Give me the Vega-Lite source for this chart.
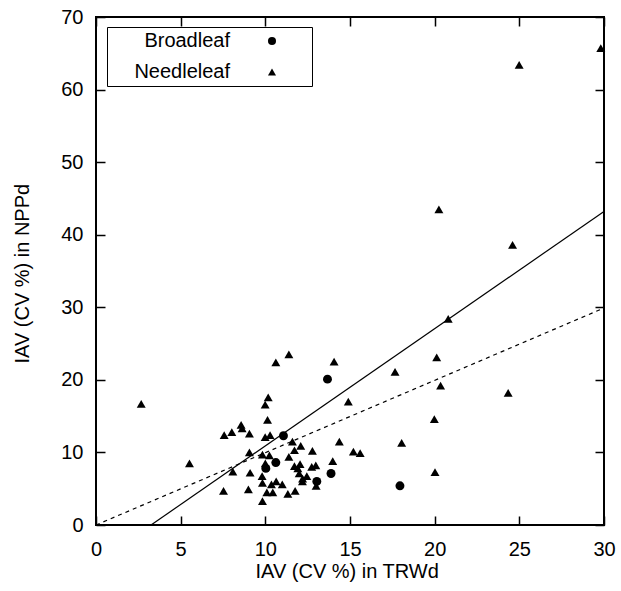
{
  "$schema": "https://vega.github.io/schema/vega-lite/v6.json",
  "width": 508,
  "height": 508,
  "autosize": {"type": "none"},
  "padding": {"left": 96, "top": 17, "right": 17, "bottom": 66},
  "background": "white",
  "config": {
    "font": "Liberation Sans",
    "view": {"stroke": "black", "strokeWidth": 2, "fill": "transparent"},
    "axis": {"domain": false, "ticks": false, "zindex": 1, "labelColor": "black", "titleColor": "black", "titleFontWeight": "normal", "labelFlush": false, "labelOverlap": false}
  },
  "datasets": {
    "points": [
      {"trw": 10.03, "npp": 7.8, "type": "Broadleaf"},
      {"trw": 10.62, "npp": 8.6, "type": "Broadleaf"},
      {"trw": 11.07, "npp": 12.3, "type": "Broadleaf"},
      {"trw": 13.04, "npp": 6.0, "type": "Broadleaf"},
      {"trw": 13.67, "npp": 20.1, "type": "Broadleaf"},
      {"trw": 13.88, "npp": 7.1, "type": "Broadleaf"},
      {"trw": 17.95, "npp": 5.4, "type": "Broadleaf"},
      {"trw": 2.67, "npp": 16.7, "type": "Needleleaf"},
      {"trw": 5.52, "npp": 8.5, "type": "Needleleaf"},
      {"trw": 7.53, "npp": 4.7, "type": "Needleleaf"},
      {"trw": 7.57, "npp": 12.4, "type": "Needleleaf"},
      {"trw": 8.02, "npp": 12.8, "type": "Needleleaf"},
      {"trw": 8.08, "npp": 7.35, "type": "Needleleaf"},
      {"trw": 8.57, "npp": 13.8, "type": "Needleleaf"},
      {"trw": 8.63, "npp": 13.3, "type": "Needleleaf"},
      {"trw": 9.06, "npp": 12.6, "type": "Needleleaf"},
      {"trw": 9.06, "npp": 10.0, "type": "Needleleaf"},
      {"trw": 9.1, "npp": 7.2, "type": "Needleleaf"},
      {"trw": 9.0, "npp": 4.9, "type": "Needleleaf"},
      {"trw": 9.83, "npp": 9.7, "type": "Needleleaf"},
      {"trw": 9.81, "npp": 6.75, "type": "Needleleaf"},
      {"trw": 9.83, "npp": 5.8, "type": "Needleleaf"},
      {"trw": 9.83, "npp": 3.3, "type": "Needleleaf"},
      {"trw": 9.99, "npp": 16.6, "type": "Needleleaf"},
      {"trw": 10.17, "npp": 17.6, "type": "Needleleaf"},
      {"trw": 10.13, "npp": 14.5, "type": "Needleleaf"},
      {"trw": 9.99, "npp": 12.1, "type": "Needleleaf"},
      {"trw": 10.28, "npp": 12.4, "type": "Needleleaf"},
      {"trw": 10.24, "npp": 9.6, "type": "Needleleaf"},
      {"trw": 10.0, "npp": 8.5, "type": "Needleleaf"},
      {"trw": 10.09, "npp": 4.5, "type": "Needleleaf"},
      {"trw": 10.44, "npp": 4.5, "type": "Needleleaf"},
      {"trw": 10.36, "npp": 5.6, "type": "Needleleaf"},
      {"trw": 10.64, "npp": 6.0, "type": "Needleleaf"},
      {"trw": 10.62, "npp": 22.4, "type": "Needleleaf"},
      {"trw": 11.39, "npp": 23.5, "type": "Needleleaf"},
      {"trw": 11.0, "npp": 5.6, "type": "Needleleaf"},
      {"trw": 11.33, "npp": 4.3, "type": "Needleleaf"},
      {"trw": 11.39, "npp": 9.4, "type": "Needleleaf"},
      {"trw": 11.6, "npp": 11.5, "type": "Needleleaf"},
      {"trw": 11.72, "npp": 10.3, "type": "Needleleaf"},
      {"trw": 11.72, "npp": 8.1, "type": "Needleleaf"},
      {"trw": 11.76, "npp": 4.7, "type": "Needleleaf"},
      {"trw": 11.92, "npp": 7.8, "type": "Needleleaf"},
      {"trw": 12.05, "npp": 8.4, "type": "Needleleaf"},
      {"trw": 12.0, "npp": 7.1, "type": "Needleleaf"},
      {"trw": 12.09, "npp": 10.9, "type": "Needleleaf"},
      {"trw": 12.19, "npp": 6.0, "type": "Needleleaf"},
      {"trw": 12.2, "npp": 6.4, "type": "Needleleaf"},
      {"trw": 12.45, "npp": 6.75, "type": "Needleleaf"},
      {"trw": 12.78, "npp": 10.2, "type": "Needleleaf"},
      {"trw": 12.74, "npp": 8.0, "type": "Needleleaf"},
      {"trw": 12.98, "npp": 8.2, "type": "Needleleaf"},
      {"trw": 13.0, "npp": 5.4, "type": "Needleleaf"},
      {"trw": 13.98, "npp": 8.8, "type": "Needleleaf"},
      {"trw": 14.06, "npp": 22.5, "type": "Needleleaf"},
      {"trw": 14.37, "npp": 11.5, "type": "Needleleaf"},
      {"trw": 14.9, "npp": 17.0, "type": "Needleleaf"},
      {"trw": 15.2, "npp": 10.1, "type": "Needleleaf"},
      {"trw": 15.6, "npp": 9.9, "type": "Needleleaf"},
      {"trw": 17.66, "npp": 21.1, "type": "Needleleaf"},
      {"trw": 18.05, "npp": 11.3, "type": "Needleleaf"},
      {"trw": 19.98, "npp": 14.6, "type": "Needleleaf"},
      {"trw": 20.02, "npp": 7.3, "type": "Needleleaf"},
      {"trw": 20.12, "npp": 23.1, "type": "Needleleaf"},
      {"trw": 20.35, "npp": 19.2, "type": "Needleleaf"},
      {"trw": 20.8, "npp": 28.4, "type": "Needleleaf"},
      {"trw": 24.34, "npp": 18.2, "type": "Needleleaf"},
      {"trw": 24.6, "npp": 38.6, "type": "Needleleaf"},
      {"trw": 20.25, "npp": 43.5, "type": "Needleleaf"},
      {"trw": 24.99, "npp": 63.4, "type": "Needleleaf"},
      {"trw": 29.81, "npp": 65.7, "type": "Needleleaf"}
    ],
    "solid": [
      {"trw": 3.25, "npp": 0},
      {"trw": 30, "npp": 43.2}
    ],
    "dashed": [
      {"trw": 0, "npp": 0},
      {"trw": 30, "npp": 29.9}
    ]
  },
  "layer": [
    {
      "data": {"name": "points"},
      "mark": {"type": "point", "filled": true, "opacity": 1, "color": "black", "size": 80},
      "encoding": {
        "x": {"field": "trw", "type": "quantitative", "scale": {"domain": [0, 30], "nice": false, "zero": false},
          "axis": {"orient": "bottom", "zindex": 1, "grid": true, "gridColor": "black", "gridOpacity": 1, "gridWidth": 1.5, "gridDash": [9, 490, 9, 1000],
            "values": [0, 5, 10, 15, 20, 25, 30], "labelFontSize": 20, "labelPadding": 14,
            "title": "IAV (CV %) in TRWd", "titleFontSize": 20, "titleAlign": "left", "titleAnchor": "start", "titleX": 159, "titleY": 52, "titleBaseline": "alphabetic"}},
        "y": {"field": "npp", "type": "quantitative", "scale": {"domain": [0, 70], "nice": false, "zero": false},
          "axis": {"orient": "left", "zindex": 1, "grid": true, "gridColor": "black", "gridOpacity": 1, "gridWidth": 1.5, "gridDash": [9, 490, 9, 1000],
            "values": [0, 10, 20, 30, 40, 50, 60, 70], "labelFontSize": 20, "labelPadding": 13,
            "title": "IAV (CV %) in NPPd", "titleFontSize": 20, "titleAngle": 270, "titleAlign": "left", "titleAnchor": "start", "titleX": -68, "titleY": 346, "titleBaseline": "alphabetic"}},
        "shape": {"field": "type", "type": "nominal",
          "scale": {"domain": ["Broadleaf", "Needleleaf"], "range": ["circle", "triangle-up"]},
          "legend": {"orient": "none", "legendX": 11, "legendY": 10, "title": " ", "titleOrient": "right", "titlePadding": 32, "titleFontSize": 1,
            "padding": 4, "strokeColor": "black", "fillColor": "white", "labelFontSize": 20, "labelColor": "black", "labelAlign": "right",
            "labelOffset": -52, "symbolOffset": 151, "rowPadding": 11, "symbolFillColor": "black", "symbolStrokeWidth": 0, "symbolSize": 65}}
      }
    },
    {
      "data": {"name": "solid"},
      "mark": {"type": "line", "color": "black", "strokeWidth": 1.2},
      "encoding": {
        "x": {"field": "trw", "type": "quantitative"},
        "y": {"field": "npp", "type": "quantitative"}
      }
    },
    {
      "data": {"name": "dashed"},
      "mark": {"type": "line", "color": "black", "strokeWidth": 1.2, "strokeDash": [4, 4]},
      "encoding": {
        "x": {"field": "trw", "type": "quantitative"},
        "y": {"field": "npp", "type": "quantitative"}
      }
    }
  ]
}
